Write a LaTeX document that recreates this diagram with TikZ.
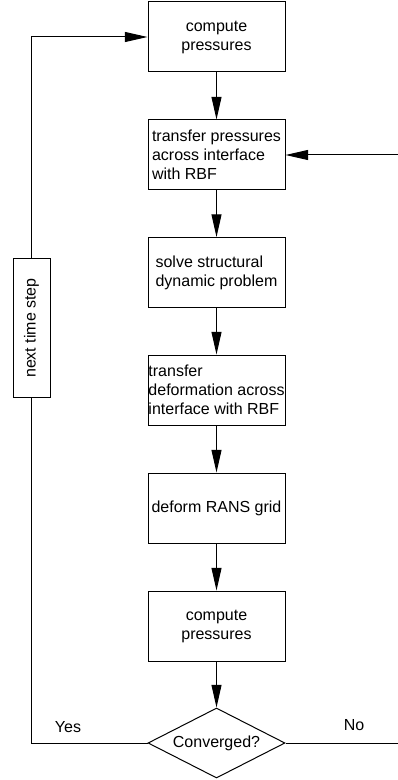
\documentclass[tikz,border=0pt]{standalone}
\usepackage{fontspec}
\setmainfont{Liberation Sans}
\usetikzlibrary{arrows.meta}
\usetikzlibrary{shapes.geometric}

\begin{document}
\begin{tikzpicture}[x=0.75pt,y=-0.75pt,
    every node/.style={font=\fontsize{12}{14.25}\selectfont},
    stepbox/.style={draw,line width=0.75pt,minimum width=102.75pt,minimum height=52.5pt,inner sep=0pt},
    flow/.style={line width=0.75pt,arrows={-Triangle[length=17pt,width=7.5pt]}}]
            \useasboundingbox (0,0) rectangle (398,780);

            \node[stepbox,align=center] (cp1) at (216.5,37) {compute\\pressures};
            \node[stepbox,align=left] (tp) at (216.5,155) {transfer pressures\\across interface\\with RBF};
            \node[stepbox,align=left] (ssd) at (216.5,272.5) {solve structural\\dynamic problem};
            \node[stepbox,align=left] (td) at (216.5,390) {transfer\\deformation across\\interface with RBF};
            \node[stepbox,align=center] (rans) at (216.5,508) {deform RANS grid};
            \node[stepbox,align=center] (cp2) at (216.5,626) {compute\\pressures};
            \node[draw,diamond,aspect=2,line width=0.75pt,minimum width=102.75pt,minimum height=52.5pt,inner sep=0pt] (conv) at (216.5,743) {Converged?};
            \node[draw,rotate=90,line width=0.75pt,minimum width=103.5pt,minimum height=27.75pt,inner sep=0pt] (nts) at (31.5,328) {next time step};

            \draw[flow] (cp1) -- (tp);
            \draw[flow] (tp) -- (ssd);
            \draw[flow] (ssd) -- (td);
            \draw[flow] (td) -- (rans);
            \draw[flow] (rans) -- (cp2);
            \draw[flow] (cp2) -- (conv);

            % converged: go on to the next time step
            \draw[line width=0.75pt] (conv.west) -| (nts.west);
            \draw[flow] (nts.east) |- (cp1.west);
            \node (yes) at (68,727) {Yes};

            % not converged: back to the pressure transfer
            \coordinate (noend) at (398,743);
            \coordinate (loopin) at (398,155);
            \draw[line width=0.75pt] (conv.east) -- (noend);
            \draw[flow] (loopin) -- (tp.east);
            \node (no) at (354,725) {No};
        \end{tikzpicture}
\end{document}
